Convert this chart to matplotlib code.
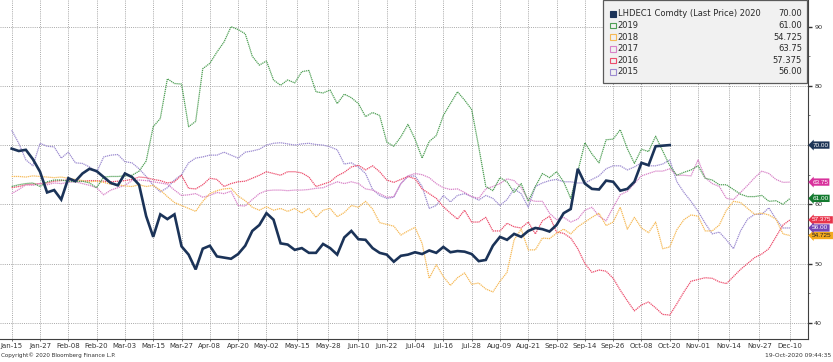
import numpy as np
import pandas as pd
import matplotlib
matplotlib.use("Agg")
import matplotlib.pyplot as plt
import matplotlib.dates as mdates
import matplotlib.transforms as mtransforms
from matplotlib.patches import Rectangle

# ---------------- data (sampled every 3 calendar days from Jan-15) ----------------
start_date = "2020-01-15"
step_days = 3

v2020 = [69.4, 69.0, 69.2, 67.6, 65.5, 62.0, 62.4, 60.8, 64.4, 63.9,
         65.2, 66.0, 65.6, 64.6, 63.6, 63.2, 65.2, 64.6, 63.3, 58.0,
         54.5, 58.3, 57.5, 58.3, 52.9, 51.5, 49.0, 52.5, 53.0, 51.2,
         51.0, 50.8, 51.6, 53.0, 55.5, 56.5, 58.5, 57.4, 53.4, 53.2,
         52.3, 52.6, 51.8, 51.8, 53.3, 52.6, 51.5, 54.4, 55.5, 54.1,
         54.0, 52.6, 51.8, 51.5, 50.3, 51.3, 51.5, 51.9, 51.6, 52.2,
         51.8, 52.8, 51.9, 52.1, 52.0, 51.6, 50.4, 50.6, 53.0, 54.5,
         54.0, 55.0, 54.5, 55.5, 56.0, 55.8, 55.4, 56.5, 58.5, 59.2,
         66.0, 63.5, 62.6, 62.5, 64.0, 63.8, 62.3, 62.6, 63.8, 67.0,
         66.6, 69.8, 69.9, 70.0]

v2019 = [63.0, 63.3, 63.5, 63.6, 63.0, 63.8, 64.1, 64.1, 63.9, 63.8,
         63.9, 63.6, 62.8, 64.6, 64.7, 64.7, 64.8, 64.9, 65.6, 67.3,
         73.1, 74.5, 81.2, 80.4, 80.3, 73.1, 74.0, 82.9, 83.8, 85.7,
         87.4, 90.0, 89.5, 88.8, 85.0, 83.5, 84.2, 81.0, 80.1, 81.0,
         80.5, 82.4, 82.6, 79.0, 78.8, 79.3, 77.0, 78.6, 78.0, 77.0,
         74.8, 75.5, 75.0, 70.5, 69.8, 71.4, 73.5, 71.0, 67.8, 70.6,
         71.6, 75.0, 77.0, 79.0, 77.6, 76.0, 69.7, 63.0, 62.3, 64.5,
         63.8, 62.0, 63.5, 60.5, 63.0, 65.2, 64.5, 65.5, 63.8, 61.0,
         65.5, 70.4, 68.5, 67.0, 70.9, 71.0, 72.6, 69.4, 66.9, 69.3,
         68.9, 71.5, 69.0, 66.5, 64.9, 65.4, 65.8, 66.5, 64.4, 64.1,
         63.3, 63.3, 62.5, 61.7, 61.3, 61.3, 61.5, 60.5, 60.6, 60.0,
         61.0]

v2018 = [64.7, 64.7, 64.6, 64.8, 64.7, 64.6, 64.5, 64.6, 64.4, 64.2,
         64.0, 63.8, 63.9, 63.7, 63.4, 63.3, 63.1, 63.0, 63.3, 63.0,
         63.2, 62.4, 61.3, 60.3, 59.8, 59.3, 58.8, 60.5, 61.8, 62.3,
         62.6, 62.7, 61.4, 60.6, 59.5, 59.0, 59.6, 59.0, 59.3, 58.8,
         59.3, 58.5, 59.3, 57.8, 59.0, 59.3, 57.9, 58.6, 59.8, 59.5,
         60.5, 59.2, 56.9, 56.6, 56.3, 54.8, 55.5, 56.1, 53.4, 47.5,
         49.8, 47.8, 46.3, 47.6, 48.4, 46.5, 46.7, 45.7, 45.2, 47.0,
         48.5, 54.0, 55.8, 52.3, 52.3, 54.3, 54.2, 55.1, 55.8, 55.0,
         56.2, 57.0, 57.8, 58.5, 56.4, 57.0, 59.5, 55.8, 57.8, 56.0,
         55.2, 57.0, 52.5, 52.8, 55.7, 57.4, 58.2, 58.0, 55.5, 55.5,
         56.5, 59.0, 60.5, 60.3, 59.3, 58.3, 58.5, 58.2, 57.5, 55.0,
         54.725]

v2017 = [61.8, 62.5, 63.3, 63.2, 63.5, 63.3, 63.6, 63.5, 63.7, 63.8,
         63.5, 63.2, 62.8, 61.6, 62.4, 62.8, 63.2, 64.0, 64.1, 64.0,
         63.8, 63.6, 63.4, 62.4, 61.5, 61.6, 61.8, 61.2, 61.5, 62.0,
         61.8, 62.2, 59.8, 59.7, 60.8, 61.8, 62.3, 62.4, 62.4, 62.3,
         62.4, 62.4, 62.5, 62.7, 62.8, 63.3, 63.8, 63.5, 63.8, 63.5,
         62.6, 62.4, 61.8, 61.2, 61.3, 63.5, 64.8, 65.2, 65.0, 64.5,
         63.5, 62.8, 62.5, 62.6, 62.0, 61.3, 61.0, 62.6, 63.0, 63.5,
         64.3, 64.0, 62.8, 60.8, 60.5, 60.5, 58.5, 57.4, 57.8, 57.0,
         57.5, 59.0, 59.5, 58.0, 57.2, 59.5, 61.6, 62.2, 63.5, 64.8,
         65.2, 65.6, 65.6, 66.0, 64.9, 64.9, 64.8, 67.5, 64.5, 63.5,
         63.0, 61.0, 60.8, 62.0, 63.2, 64.5, 65.6, 65.2, 64.2, 63.7,
         63.75]

v2016 = [62.8, 63.0, 63.3, 63.4, 63.5, 63.6, 63.9, 64.0, 64.1, 64.0,
         63.9, 64.0, 64.0, 63.9, 63.8, 63.9, 64.0, 64.2, 64.6, 64.5,
         64.2, 64.0, 63.6, 63.8, 64.9, 62.7, 62.6, 63.3, 64.4, 64.2,
         63.0, 63.5, 63.8, 63.9, 64.4, 64.9, 65.5, 65.2, 64.9, 65.5,
         65.5, 65.3, 64.6, 63.0, 63.4, 63.8, 64.8, 65.4, 66.3, 66.6,
         65.8, 66.5, 65.5, 64.1, 63.7, 64.2, 64.7, 64.3, 62.6, 61.8,
         61.0, 59.6, 58.5, 57.5, 59.0, 57.0, 57.0, 57.8, 55.5, 55.5,
         56.8, 56.2, 56.0, 57.0, 55.0, 57.2, 58.0, 55.3, 55.1, 54.3,
         52.5, 50.0, 48.5, 48.9, 48.7, 47.5, 45.5, 43.7, 42.0, 43.0,
         43.5, 42.5, 41.4, 41.3, 43.2, 45.2, 47.0, 47.3, 47.6, 47.5,
         46.9, 46.6, 47.8, 49.0, 50.0, 51.0, 51.6, 52.5, 54.5, 56.5,
         57.375]

v2015 = [72.5, 70.3, 67.5, 66.5, 70.3, 69.8, 69.7, 67.8, 68.8, 67.0,
         66.9, 66.3, 65.4, 68.0, 68.3, 68.4, 67.2, 67.0, 66.0, 64.7,
         63.2, 62.1, 62.8, 64.1, 65.0, 67.0, 67.8, 68.0, 68.3, 68.3,
         68.8, 68.3, 67.8, 68.8, 69.0, 69.3, 70.0, 70.3, 70.4, 70.2,
         70.0, 70.2, 70.3, 70.1, 70.0, 69.7, 69.2, 66.8, 67.0, 66.3,
         65.2, 62.5, 61.5, 61.0, 61.2, 63.5, 64.7, 64.8, 63.0, 59.3,
         59.8, 61.5, 60.4, 61.5, 61.8, 61.3, 60.7, 61.5, 61.0, 59.8,
         60.8, 62.6, 61.8, 59.5, 63.0, 63.6, 64.0, 64.2, 63.8, 63.8,
         63.6, 63.6, 64.2, 64.8, 66.0, 66.5, 66.5, 65.8, 66.3, 67.0,
         66.5, 66.5, 66.8, 67.5, 63.8, 62.0, 60.5, 58.8, 56.8, 55.0,
         55.3, 54.0, 52.5, 55.5, 57.5, 58.3, 58.3, 59.4, 57.5, 56.0,
         56.0]

series_names = ["LHDEC1 Comdty (Last Price) 2020", "2019", "2018", "2017", "2016", "2015"]
series_values = [v2020, v2019, v2018, v2017, v2016, v2015]
last_labels = ["70.00", "61.00", "54.725", "63.75", "57.375", "56.00"]

tick_labels = ["Jan-15", "Jan-27", "Feb-08", "Feb-20", "Mar-03", "Mar-15", "Mar-27",
               "Apr-08", "Apr-20", "May-02", "May-15", "May-28", "Jun-10", "Jun-22",
               "Jul-04", "Jul-16", "Jul-28", "Aug-09", "Aug-21", "Sep-02", "Sep-14",
               "Sep-26", "Oct-08", "Oct-20", "Nov-01", "Nov-14", "Nov-27", "Dec-10"]
y_ticks = [40, 50, 60, 70, 80, 90]
y_tick_labels = ["40", "50", "60", "", "80", "90"]   # "70" is hidden behind the 70.00 tag

# ---------------- styling ----------------
line_colors = ["#1b3358", "#4f9f55", "#f6b955", "#d883c8", "#ec4d6c", "#9c8bd0"]
tag_colors = ["#1d3557", "#137a2f", "#f2a91e", "#d8329c", "#e8344c", "#7547b5"]
tag_text_colors = ["white", "white", "#222222", "white", "white", "white"]

W, H = 833, 362
fig = plt.figure(figsize=(W / 100, H / 100), dpi=100)
fig.patch.set_facecolor("white")
ax = fig.add_axes([0, 23 / H, 808 / W, 339 / H])

t0 = pd.Timestamp(start_date)
x0 = mdates.date2num(t0)
ax.set_xlim(x0 - 4.96, x0 + 337.6)
ax.set_ylim(37.25, 94.5)

tick_dates = [pd.to_datetime("2020-" + lbl, format="%Y-%b-%d") for lbl in tick_labels]
ax.set_xticks(mdates.date2num(tick_dates))
ax.set_xticklabels(tick_labels, fontsize=5.0, color="#333333")
ax.set_yticks(y_ticks)
ax.set_yticklabels(y_tick_labels, fontsize=4.6, color="#333333")
ax.set_yticks([45, 55, 65, 75, 85], minor=True)
ax.yaxis.tick_right()
ax.tick_params(axis="y", which="major", direction="out", length=3, width=1.0,
               color="#333333", pad=1.5)
ax.tick_params(axis="y", which="minor", direction="out", length=1.5, width=0.6,
               color="#666666")
ax.tick_params(axis="x", direction="out", length=1.5, width=0.6, color="#555555", pad=1.5)

ax.grid(True, which="major", color="#a8a8a8", linestyle=(0, (1, 1.2)), linewidth=0.7)
ax.set_axisbelow(True)
for s in ["top", "left"]:
    ax.spines[s].set_visible(False)
for s in ["right", "bottom"]:
    ax.spines[s].set_color("#404040")
    ax.spines[s].set_linewidth(0.8)

# plot series (2020 last so it is on top)
order = [5, 4, 3, 2, 1, 0]
for k in order:
    vals = series_values[k]
    dates = pd.date_range(t0, periods=len(vals), freq=f"{step_days}D")
    if k == 0:
        ax.plot(dates, vals, color=line_colors[k], lw=1.9, solid_joinstyle="miter", zorder=10)
    else:
        ax.plot(dates, vals, color=line_colors[k], lw=0.9, linestyle=(0, (1, 0.6)), zorder=5)

# value tags on the right axis
blend = mtransforms.blended_transform_factory(ax.transAxes, ax.transData)
for k in range(len(series_values)):
    ax.text(1.0052, series_values[k][-1], last_labels[k], transform=blend,
            family="Liberation Sans", fontsize=4.6, color=tag_text_colors[k],
            ha="left", va="center",
            bbox=dict(boxstyle="larrow,pad=0.18", fc=tag_colors[k], ec="none"),
            clip_on=False, zorder=20)

# legend (drawn as a panel in the top right corner)
def fx(px):
    return px / W
def fy(py):
    return 1 - py / H

fig.patches.append(Rectangle((fx(603), fy(83)), fx(807) - fx(603), fy(0.5) - fy(83),
                             transform=fig.transFigure, fc="#f1f1f1", ec="#5a5a5a",
                             lw=0.9, zorder=30))
row_y = [14.0, 25.5, 37.0, 48.7, 60.5, 72.0]
for k, name in enumerate(series_names):
    yk = fy(row_y[k])
    sq = Rectangle((fx(610), yk - 2.8 / H), 5.6 / W, 5.6 / H, transform=fig.transFigure,
                   fc=line_colors[k] if k == 0 else "none",
                   ec=line_colors[k], lw=0.8, zorder=31)
    fig.patches.append(sq)
    fig.text(fx(617.5), yk, name, fontsize=6.0, color="#2a2a2a", ha="left", va="center",
             zorder=32)
    fig.text(fx(802), yk, last_labels[k], fontsize=6.0, color="#2a2a2a", ha="right",
             va="center", zorder=32)

fig.text(fx(1), fy(355.5), "Copyright\u00a9 2020 Bloomberg Finance L.P.", fontsize=4.1,
         color="#333333", ha="left", va="center")
fig.text(fx(831), fy(355.5), "19-Oct-2020 09:44:35", fontsize=4.3, color="#333333",
         ha="right", va="center")

fig.savefig("out.png", dpi=100)
